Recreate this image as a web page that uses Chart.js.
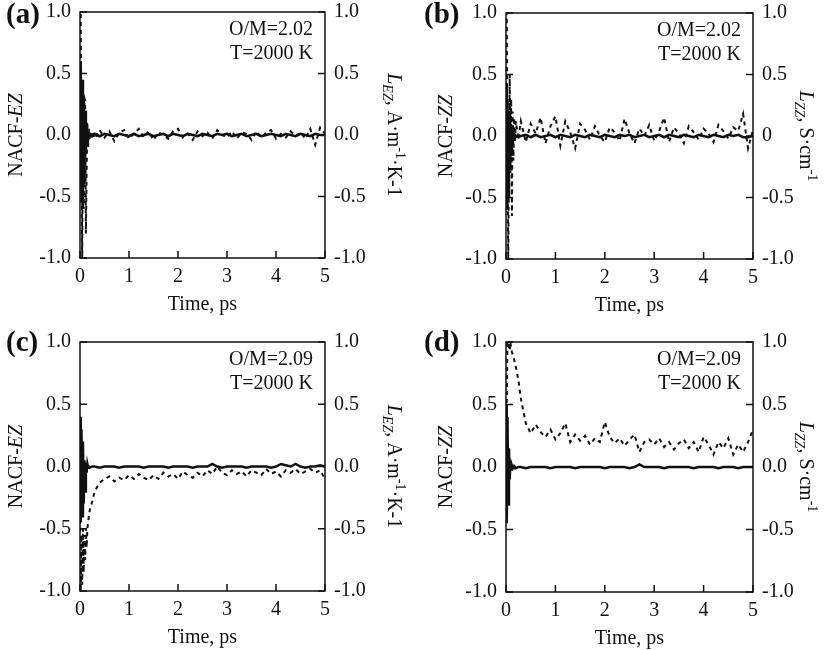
<!DOCTYPE html>
<html>
<head>
<meta charset="utf-8">
<script src="https://cdn.jsdelivr.net/npm/chart.js@4.4.1/dist/chart.umd.min.js"></script>
<style>
  body { margin: 0; background: #fff; }
  #wrap { position: relative; width: 825px; height: 650px; }
  .panel { position: absolute; }
</style>
</head>
<body>
<div id="wrap">
  <div class="panel" style="left:0;top:0;width:412px;height:325px"><canvas id="ca"></canvas></div>
  <div class="panel" style="left:412px;top:0;width:413px;height:325px"><canvas id="cb"></canvas></div>
  <div class="panel" style="left:0;top:325px;width:412px;height:325px"><canvas id="cc"></canvas></div>
  <div class="panel" style="left:412px;top:325px;width:413px;height:325px"><canvas id="cd"></canvas></div>
</div>
<script>
// time axis (ps), dense at the start where the curves swing
const time = [0, 0.015, 0.03, 0.045, 0.06, 0.075, 0.09, 0.105, 0.12, 0.135, 0.15, 0.165, 0.18, 0.2, 0.25,
  0.3, 0.4, 0.5, 0.6, 0.7, 0.8, 0.9, 1.0,
  1.1, 1.2, 1.3, 1.4, 1.5, 1.6, 1.7, 1.8,
  1.9, 2.0, 2.1, 2.2, 2.3, 2.4, 2.5, 2.6,
  2.7, 2.8, 2.9, 3.0, 3.1, 3.2, 3.3, 3.4,
  3.5, 3.6, 3.7, 3.8, 3.9, 4.0, 4.1, 4.2,
  4.3, 4.4, 4.5, 4.6, 4.7, 4.8, 4.9, 5.0];

const yTicks = [-1.0, -0.5, 0.0, 0.5, 1.0];
const xTicks = [0, 1, 2, 3, 4, 5];

// (a) O/M=2.02 : NACF-EZ (solid) and L_EZ (dashed)
const nacfEZ_202 = [0.0, 0.6, -0.55, 0.45, -0.6, 0.3, -0.4, 0.2, -0.15, 0.1, -0.05, 0.03, -0.02, 0.01, -0.01,
  0.01, -0.01, 0.01, 0.0, -0.01, 0.01, 0.0, -0.01,
  0.01, -0.01, 0.0, 0.01, -0.01, 0.0, 0.01, -0.01,
  0.01, 0.0, -0.01, 0.01, 0.0, -0.01, 0.01, 0.0,
  -0.01, 0.01, 0.0, 0.01, -0.01, 0.0, 0.01, -0.01,
  0.0, 0.01, -0.01, 0.0, 0.01, 0.0, -0.01, 0.01,
  0.0, -0.01, 0.01, 0.0, -0.01, 0.01, 0.0, 0.0];
const lEZ_202 = [0.3, 1.0, -0.2, -1.0, 0.2, -0.6, 0.3, 0.28, -0.8, -0.3, 0.1, -0.1, 0.05, -0.04, 0.03,
  -0.03, 0.04, -0.02, 0.03, -0.05, 0.02, 0.04, -0.03,
  0.01, 0.05, -0.02, 0.03, -0.04, 0.02, 0.0, -0.03,
  0.03, 0.05, -0.02, 0.01, -0.04, 0.03, -0.01, 0.02,
  -0.03, 0.04, 0.0, -0.02, 0.03, -0.03, 0.02, 0.01,
  -0.04, 0.03, -0.02, 0.02, 0.04, -0.03, 0.01, -0.02,
  0.03, -0.01, 0.02, -0.03, 0.05, -0.08, 0.06, 0.01];

// (b) O/M=2.02 : NACF-ZZ and L_ZZ
const nacfZZ_202 = [0.4, -0.6, 0.3, -0.5, 0.2, -0.3, 0.1, -0.15, 0.05, -0.05, 0.02, -0.02, 0.01, 0.0, -0.01,
  0.0, 0.01, -0.01, 0.01, -0.01, 0.0, 0.01, -0.01,
  0.01, 0.0, -0.01, 0.01, 0.0, -0.01, 0.01, 0.0,
  -0.01, 0.01, 0.0, -0.01, 0.01, 0.0, 0.01, -0.01,
  0.0, 0.01, -0.01, 0.0, 0.01, -0.01, 0.01, 0.0,
  -0.01, 0.01, 0.0, -0.01, 0.01, 0.0, -0.01, 0.01,
  0.0, -0.01, 0.01, 0.0, 0.01, -0.01, -0.01, 0.0];
const lZZ_202 = [0.4, 1.0, -0.1, -1.0, -0.2, 0.5, -0.3, 0.3, -0.65, 0.2, -0.2, 0.15, -0.05, 0.12, -0.03,
  0.12, -0.05, 0.1, 0.02, 0.15, -0.06, 0.08, 0.16,
  -0.08, 0.12, 0.03, -0.1, 0.1, 0.05, -0.03, 0.08,
  0.0, -0.05, 0.07, 0.03, -0.04, 0.14, 0.02, -0.06,
  0.06, 0.0, 0.09, -0.04, 0.04, 0.15, -0.05, 0.07,
  0.02, -0.06, 0.08, 0.03, -0.03, 0.06, 0.02, -0.05,
  0.09, 0.04, -0.02, 0.07, 0.04, 0.18, -0.1, 0.05];

// (c) O/M=2.09 : NACF-EZ and L_EZ
const nacfEZ_209 = [0.4, -0.45, 0.3, -0.4, 0.2, -0.3, 0.05, -0.2, 0.03, -0.05, 0.02, -0.01, 0.0, -0.01, 0.0,
  0.0, -0.01, 0.0, 0.0, 0.0, -0.01, 0.0, 0.0,
  0.0, 0.0, -0.01, 0.0, 0.0, 0.0, 0.0, -0.01,
  0.0, 0.0, 0.0, 0.0, -0.01, 0.0, 0.0, 0.0,
  0.02, 0.0, -0.01, 0.0, 0.0, 0.0, 0.0, -0.01,
  0.0, 0.0, 0.0, 0.0, -0.01, 0.0, 0.02, 0.01,
  0.0, 0.02, 0.0, -0.01, 0.0, 0.0, 0.01, 0.0];
const lEZ_209 = [-0.3, -1.0, -0.55, -0.95, -0.5, -0.85, -0.55, -0.75, -0.5, -0.65, -0.5, -0.45, -0.4, -0.35, -0.28,
  -0.2, -0.13, -0.1, -0.08, -0.12, -0.09, -0.11, -0.07,
  -0.1, -0.06, -0.09, -0.11, -0.07, -0.1, -0.05, -0.08,
  -0.06, -0.1, -0.04, -0.07, -0.09, -0.05, -0.08, -0.03,
  -0.06, 0.0, -0.05, -0.07, -0.03, -0.06, -0.04, -0.08,
  -0.03, -0.05, -0.07, -0.02, -0.06, -0.04, -0.08, -0.03,
  -0.05, -0.02, -0.06, -0.04, -0.02, -0.05, -0.03, -0.1];

// (d) O/M=2.09 : NACF-ZZ and L_ZZ
const nacfZZ_209 = [0.5, -0.45, 0.4, -0.3, 0.15, -0.1, 0.05, -0.02, 0.01, -0.01, 0.0, -0.01, 0.0, -0.01, 0.0,
  0.0, -0.01, 0.0, 0.0, 0.0, 0.0, -0.01, 0.0,
  0.0, 0.0, 0.0, -0.01, 0.0, 0.0, 0.0, 0.0,
  0.0, -0.01, 0.0, 0.0, 0.0, 0.0, -0.01, 0.0,
  0.02, 0.0, 0.0, 0.0, 0.0, -0.01, 0.0, 0.0,
  0.0, 0.0, 0.0, -0.01, 0.0, 0.0, 0.0, 0.0,
  -0.01, 0.0, 0.0, 0.0, -0.01, 0.0, 0.0, 0.0];
const lZZ_209 = [0.0, 0.5, 1.0, 1.0, 0.96, 0.93, 1.0, 0.95, 0.92, 0.9, 0.88, 0.86, 0.83, 0.8, 0.7,
  0.55, 0.35, 0.27, 0.34, 0.28, 0.24, 0.3, 0.22,
  0.27, 0.35, 0.2, 0.26, 0.21, 0.25, 0.18, 0.23,
  0.2, 0.36, 0.24, 0.19, 0.23, 0.17, 0.22, 0.26,
  0.12, 0.2, 0.22, 0.18, 0.23, 0.16, 0.2, 0.14,
  0.19, 0.22, 0.15, 0.2, 0.12, 0.24, 0.18, 0.1,
  0.2, 0.15, 0.23, 0.1, 0.18, 0.12, 0.2, 0.3];

const FONT = '"Liberation Serif", "Times New Roman", serif';
const INK = '#111';

function seg(text, style, size, dy) {
  return { text: text, style: style, size: size, dy: dy || 0 };
}

const titleEZ = [seg('NACF-', 'normal', 20), seg('EZ', 'italic', 20)];
const titleZZ = [seg('NACF-', 'normal', 20), seg('ZZ', 'italic', 20)];
const unitEZ = [seg('L', 'italic', 20), seg('EZ', 'italic', 14, 5), seg(', A\u00b7m', 'normal', 20),
  seg('-1', 'normal', 14, -8), seg('\u00b7K-1', 'normal', 20)];
const unitZZ = [seg('L', 'italic', 20), seg('ZZ', 'italic', 14, 5), seg(', S\u00b7cm', 'normal', 20),
  seg('-1', 'normal', 14, -8)];

function drawSegments(ctx, segs, cx, cy, angle) {
  ctx.save();
  ctx.translate(cx, cy);
  ctx.rotate(angle);
  let total = 0;
  segs.forEach(s => {
    ctx.font = `${s.style} ${s.size}px ${FONT}`;
    s.w = ctx.measureText(s.text).width;
    total += s.w;
  });
  let x = -total / 2;
  ctx.textAlign = 'left';
  ctx.textBaseline = 'alphabetic';
  segs.forEach(s => {
    ctx.font = `${s.style} ${s.size}px ${FONT}`;
    ctx.fillText(s.text, x, 7 + s.dy);
    x += s.w;
  });
  ctx.restore();
}

// frame, inward ticks, axis titles, labels
const decoPlugin = {
  id: 'deco',
  afterDatasetsDraw(chart, args, o) {
    const { ctx, chartArea: a, scales } = chart;
    ctx.save();
    ctx.strokeStyle = INK;
    ctx.fillStyle = INK;
    ctx.lineWidth = 1.5;
    ctx.strokeRect(a.left, a.top, a.right - a.left, a.bottom - a.top);
    const tl = 7;
    ctx.beginPath();
    scales.y.ticks.forEach(t => {
      const py = scales.y.getPixelForValue(t.value);
      ctx.moveTo(a.left, py); ctx.lineTo(a.left + tl, py);
    });
    scales.y2.ticks.forEach(t => {
      const py = scales.y2.getPixelForValue(t.value);
      ctx.moveTo(a.right, py); ctx.lineTo(a.right - tl, py);
    });
    scales.x.ticks.forEach(t => {
      const px = scales.x.getPixelForValue(t.value);
      ctx.moveTo(px, a.bottom); ctx.lineTo(px, a.bottom - tl);
    });
    ctx.stroke();

    const midY = (a.top + a.bottom) / 2;
    drawSegments(ctx, o.leftTitle, a.left - o.leftOff, midY, -Math.PI / 2);
    drawSegments(ctx, o.rightTitle, a.right + o.rightOff, midY, Math.PI / 2);

    ctx.font = `20px ${FONT}`;
    ctx.textAlign = 'center';
    ctx.textBaseline = 'alphabetic';
    ctx.fillText('Time, ps', (a.left + a.right) / 2, a.bottom + 52);

    ctx.textAlign = 'right';
    ctx.fillText(o.om, a.right - 12, a.top + 23);
    ctx.fillText('T=2000 K', a.right - 12, a.top + 47);

    ctx.textAlign = 'left';
    ctx.font = `bold 29px ${FONT}`;
    ctx.fillText(o.letter, o.letterX, o.letterY);
    ctx.restore();
  }
};

function points(vals) {
  return time.map((t, i) => ({ x: t, y: vals[i] }));
}

const panels = [
  { id: 'ca', solid: nacfEZ_202, dashed: lEZ_202, letter: '(a)', om: 'O/M=2.02', leftTitle: titleEZ, rightTitle: unitEZ,
    wl: 80, wr: 87, hb: 67, top: 12, letterX: 6, letterY: 23, leftOff: 65, rightOff: 70, zeroPlain: false },
  { id: 'cb', solid: nacfZZ_202, dashed: lZZ_202, letter: '(b)', om: 'O/M=2.02', leftTitle: titleZZ, rightTitle: unitZZ,
    wl: 94, wr: 72, hb: 66, top: 13, letterX: 12, letterY: 23, leftOff: 61, rightOff: 54, zeroPlain: true },
  { id: 'cc', solid: nacfEZ_209, dashed: lEZ_209, letter: '(c)', om: 'O/M=2.09', leftTitle: titleEZ, rightTitle: unitEZ,
    wl: 80, wr: 87, hb: 59, top: 17, letterX: 6, letterY: 26, leftOff: 65, rightOff: 70, zeroPlain: false },
  { id: 'cd', solid: nacfZZ_209, dashed: lZZ_209, letter: '(d)', om: 'O/M=2.09', leftTitle: titleZZ, rightTitle: unitZZ,
    wl: 94, wr: 72, hb: 58, top: 17, letterX: 12, letterY: 26, leftOff: 61, rightOff: 54, zeroPlain: false }
];

function makeChart(p) {
  const tickFont = { family: FONT, size: 20 };
  new Chart(document.getElementById(p.id), {
    type: 'line',
    data: {
      datasets: [
        { data: points(p.solid), yAxisID: 'y', borderColor: INK, borderWidth: 2.5,
          pointRadius: 0, tension: 0 },
        { data: points(p.dashed), yAxisID: 'y2', borderColor: INK, borderWidth: 2,
          borderDash: [4, 4], pointRadius: 0, tension: 0 }
      ]
    },
    options: {
      responsive: true,
      maintainAspectRatio: false,
      animation: false,
      devicePixelRatio: 1,
      layout: { padding: { left: 0, right: 0, top: p.top, bottom: 0 } },
      plugins: {
        legend: { display: false },
        tooltip: { enabled: false },
        deco: p
      },
      scales: {
        x: {
          type: 'linear', position: 'bottom', min: 0, max: 5,
          grid: { display: false, drawTicks: false }, border: { display: false },
          afterBuildTicks: s => { s.ticks = xTicks.map(v => ({ value: v })); },
          ticks: { font: tickFont, color: INK, padding: 7, maxRotation: 0, callback: v => String(v) },
          afterFit: s => { s.height = p.hb; s.paddingLeft = 0; s.paddingRight = 0; }
        },
        y: {
          position: 'left', min: -1, max: 1,
          grid: { display: false, drawTicks: false }, border: { display: false },
          afterBuildTicks: s => { s.ticks = yTicks.map(v => ({ value: v })); },
          ticks: { font: tickFont, color: INK, padding: 9, callback: v => v.toFixed(1) },
          afterFit: s => { s.width = p.wl; s.paddingTop = 0; s.paddingBottom = 0; }
        },
        y2: {
          position: 'right', min: -1, max: 1,
          grid: { display: false, drawTicks: false }, border: { display: false },
          afterBuildTicks: s => { s.ticks = yTicks.map(v => ({ value: v })); },
          ticks: { font: tickFont, color: INK, padding: 9,
            callback: v => (p.zeroPlain && v === 0) ? '0' : v.toFixed(1) },
          afterFit: s => { s.width = p.wr; s.paddingTop = 0; s.paddingBottom = 0; }
        }
      }
    },
    plugins: [decoPlugin]
  });
}

panels.forEach(makeChart);
</script>
</body>
</html>
